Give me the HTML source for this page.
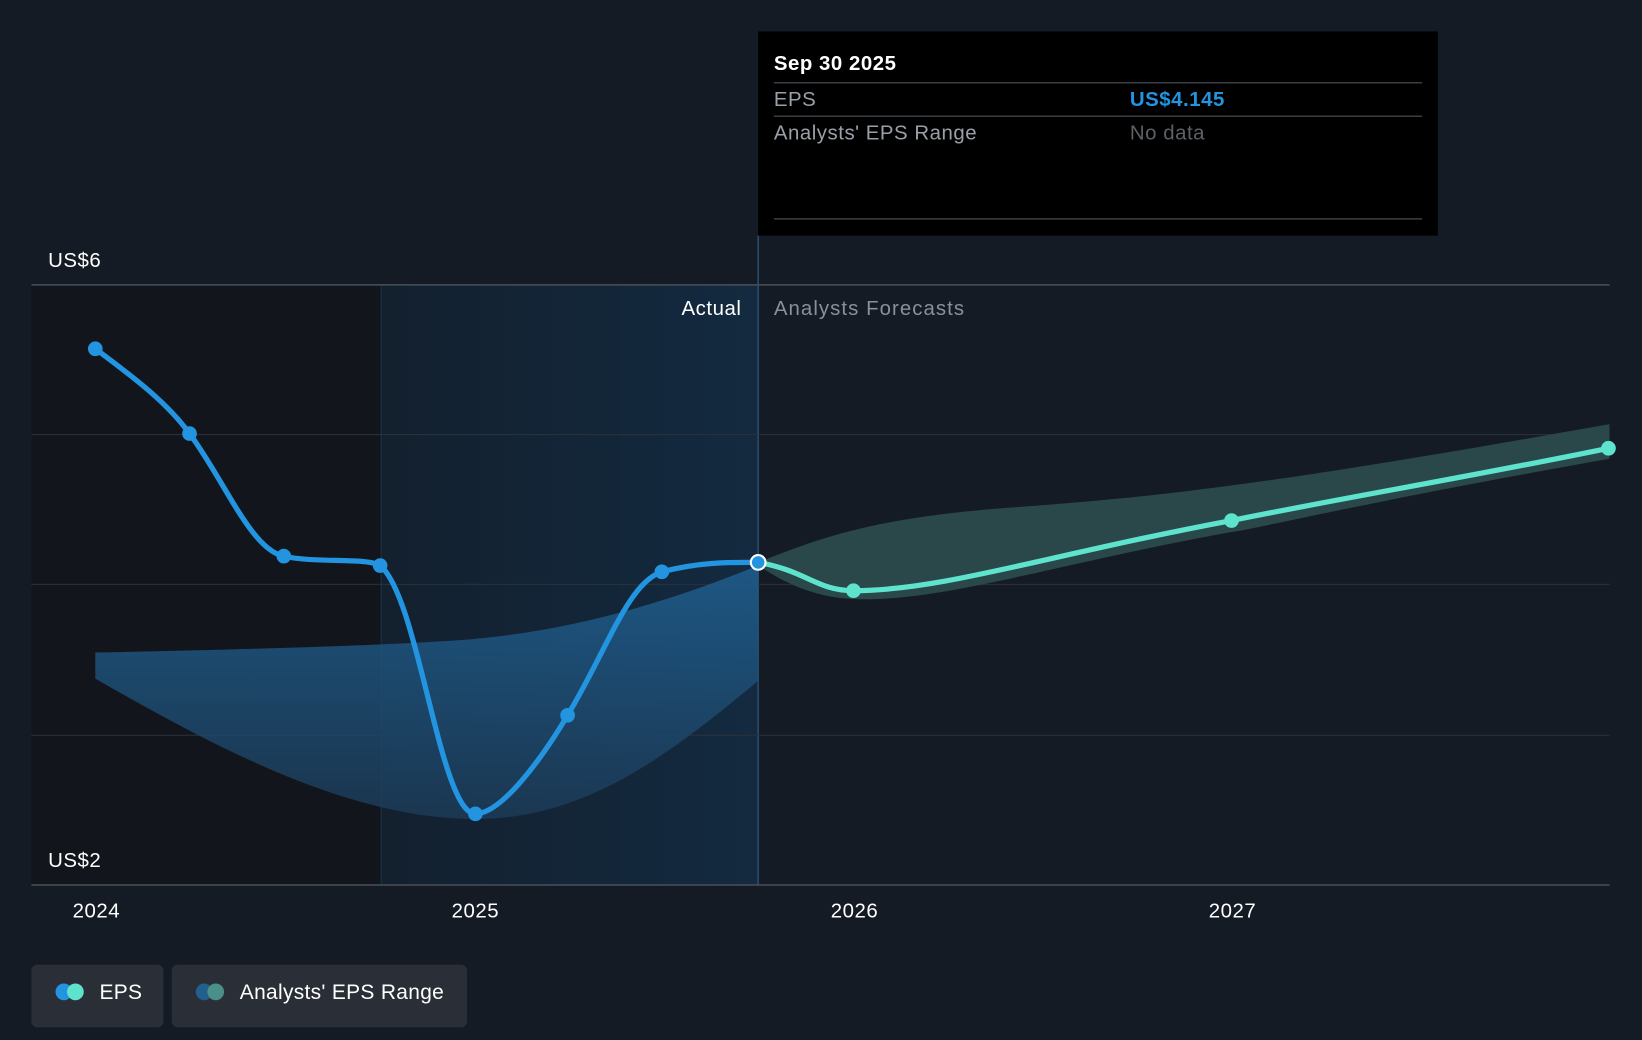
<!DOCTYPE html>
<html><head><meta charset="utf-8"><style>
html,body{margin:0;padding:0;background:#151b24;}
svg{display:block;font-family:"Liberation Sans",Arial,sans-serif;}
</style></head><body>
<svg width="1642" height="1040" viewBox="0 0 1568 993" preserveAspectRatio="none" xmlns="http://www.w3.org/2000/svg">
<defs>
<linearGradient id="hl" x1="0" x2="1" y1="0" y2="0">
<stop offset="0" stop-color="#13202e"/><stop offset="1" stop-color="#132a40"/>
</linearGradient>
<linearGradient id="band" x1="0" x2="0" y1="0" y2="1">
<stop offset="0" stop-color="#1f5f90"/><stop offset="1" stop-color="#1c3a56"/>
</linearGradient>
</defs>
<rect width="1568" height="993" fill="#151b24"/>
<rect x="30" y="272" width="334" height="573" fill="#12161c"/>
<rect x="364" y="272" width="360" height="573" fill="url(#hl)"/>
<line x1="364" y1="272" x2="364" y2="845" stroke="#1e3448" stroke-width="1"/>
<line x1="724" y1="225" x2="724" y2="845" stroke="#2a4c6c" stroke-width="1.5"/>
<g stroke="#2c323b" stroke-width="1">
<line x1="30" y1="415" x2="1537" y2="415"/>
<line x1="30" y1="558" x2="1537" y2="558"/>
<line x1="30" y1="702" x2="1537" y2="702"/>
</g>
<line x1="30" y1="272" x2="1537" y2="272" stroke="#4a5058" stroke-width="1.5"/>
<line x1="30" y1="845" x2="1537" y2="845" stroke="#4a5058" stroke-width="1.5"/>
<path d="M91,623 C250,620 400,615 454,610 C560,600 650,570 724,540 L724,650 C640,720 560,782 454,782 C330,782 200,710 91,648 Z" fill="url(#band)" opacity="0.85"/>
<path d="M724,537 C780,515 830,495 960,485 C1100,475 1200,465 1537,405 L1537,438 C1300,480 1200,505 1176,508 C1000,540 900,575 815,572 C770,570 740,550 724,540 Z" fill="#2b4a4c" opacity="0.95"/>
<path d="M91,333 C130,362 160,385 181,414 C215,460 240,525 271,531 C300,538 350,532 363,540 C400,570 420,777 454,777 C480,777 520,720 542,683 C580,620 600,556 632,546 C670,536 700,537 724,537" fill="none" stroke="#2394df" stroke-width="5" stroke-linecap="round"/>
<path d="M724,537 C770,545 780,564 815,564 C900,564 1000,530 1176,497 C1300,472 1400,456 1536,428" fill="none" stroke="#5ee3cc" stroke-width="5" stroke-linecap="round"/>
<g fill="#2394df">
<circle cx="91" cy="333" r="7"/><circle cx="181" cy="414" r="7"/><circle cx="271" cy="531" r="7"/><circle cx="363" cy="540" r="7"/><circle cx="454" cy="777" r="7"/><circle cx="542" cy="683" r="7"/><circle cx="632" cy="546" r="7"/>
</g>
<g fill="#5ee3cc"><circle cx="815" cy="564" r="7"/><circle cx="1176" cy="497" r="7"/><circle cx="1536" cy="428" r="7"/></g>
<circle cx="724" cy="537" r="7" fill="#2394df" stroke="#fff" stroke-width="2"/>
<g font-size="19.5" fill="#fff" letter-spacing="0.5">
<text x="46" y="255">US$6</text>
<text x="46" y="828">US$2</text>
<text x="708" y="301" text-anchor="end">Actual</text>
<text x="739" y="301" fill="#8a9099" letter-spacing="1">Analysts Forecasts</text>
<text x="92" y="876" text-anchor="middle">2024</text>
<text x="454" y="876" text-anchor="middle">2025</text>
<text x="816" y="876" text-anchor="middle">2026</text>
<text x="1177" y="876" text-anchor="middle">2027</text>
</g>
<rect x="724" y="30" width="649" height="195" fill="#000"/>
<g stroke="#3a3f46" stroke-width="1.5"><line x1="739" y1="79" x2="1358" y2="79"/><line x1="739" y1="111" x2="1358" y2="111"/><line x1="739" y1="209" x2="1358" y2="209"/></g>
<g font-size="19.5" letter-spacing="0.5">
<text x="739" y="67" fill="#fff" font-weight="bold">Sep 30 2025</text>
<text x="739" y="101" fill="#9aa0a8">EPS</text>
<text x="1079" y="101" fill="#2394df" font-weight="bold">US$4.145</text>
<text x="739" y="133" fill="#9aa0a8">Analysts' EPS Range</text>
<text x="1079" y="133" fill="#5c6168">No data</text>
</g>
<rect x="30" y="921" width="126" height="60" rx="6" fill="#2a2f37"/>
<rect x="164" y="921" width="282" height="60" rx="6" fill="#2a2f37"/>
<circle cx="61" cy="947" r="8" fill="#2394df"/><circle cx="72" cy="947" r="8" fill="#5ee3cc"/>
<circle cx="195" cy="947" r="8" fill="#235f8c"/><circle cx="206" cy="947" r="8" fill="#4a8f88"/>
<g font-size="20" fill="#fff" letter-spacing="0.3"><text x="95" y="954">EPS</text><text x="229" y="954">Analysts' EPS Range</text></g>
</svg>
</body></html>
